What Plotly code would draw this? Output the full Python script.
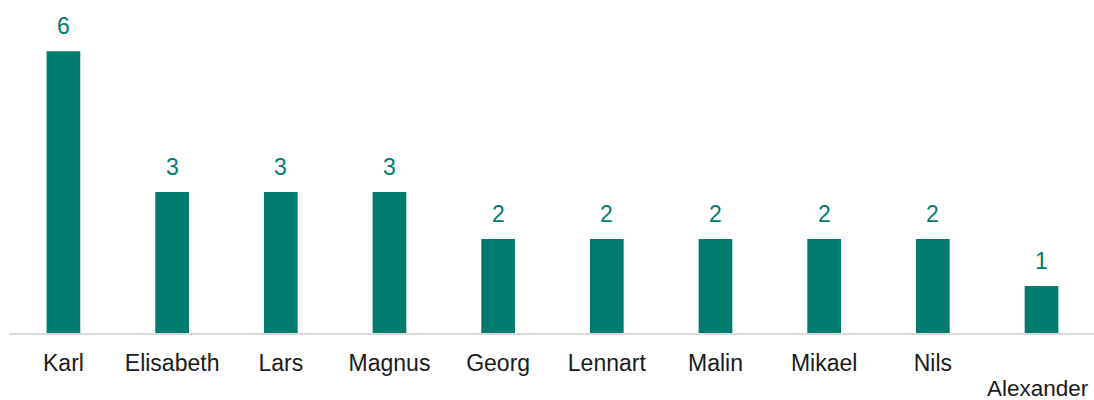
import plotly.graph_objects as go

# Name counts
names = ["Karl", "Elisabeth", "Lars", "Magnus", "Georg", "Lennart", "Malin", "Mikael", "Nils", "Alexander"]
counts = [6, 3, 3, 3, 2, 2, 2, 2, 2, 1]
# The last label is drawn separately on a lower line so it doesn't collide with its neighbour
tick_labels = names[:-1] + [""]

teal = "#007B6E"
font_family = "Liberation Sans, Arial, sans-serif"

fig = go.Figure(
    go.Bar(
        x=list(range(len(names))),
        y=counts,
        marker=dict(color=teal, line=dict(width=0)),
        width=0.31,
        hoverinfo="skip",
    )
)

# Value labels above each bar
for i, v in enumerate(counts):
    fig.add_annotation(
        x=i, y=v, text=str(v), showarrow=False,
        yanchor="bottom", yshift=10,
        font=dict(family=font_family, size=23, color=teal),
    )

# Staggered category label for the last bar
fig.add_annotation(
    x=len(names) - 1, xref="x", y=0, yref="paper",
    text=names[-1], showarrow=False,
    yanchor="middle", yshift=-55, xshift=-4,
    borderpad=0,
    font=dict(family=font_family, size=22.5, color="#1a1a1a"),
)

fig.update_layout(
    width=1094, height=400,
    margin=dict(l=9, r=0, t=0, b=67),
    plot_bgcolor="white", paper_bgcolor="white",
    showlegend=False,
    font=dict(family=font_family, size=23, color="#1a1a1a"),
)
fig.update_xaxes(
    tickmode="array",
    tickvals=list(range(len(names))),
    ticktext=tick_labels,
    range=[-0.501, 9.483],
    automargin=False,
    showgrid=False, zeroline=False,
    showline=True, linecolor="#D9D9D9", linewidth=2,
    ticks="outside", ticklen=8, tickcolor="rgba(0,0,0,0)",
)
fig.update_yaxes(
    range=[0, 7.09], visible=False, showgrid=False, zeroline=False,
    automargin=False,
)

fig.write_html("out.html")
